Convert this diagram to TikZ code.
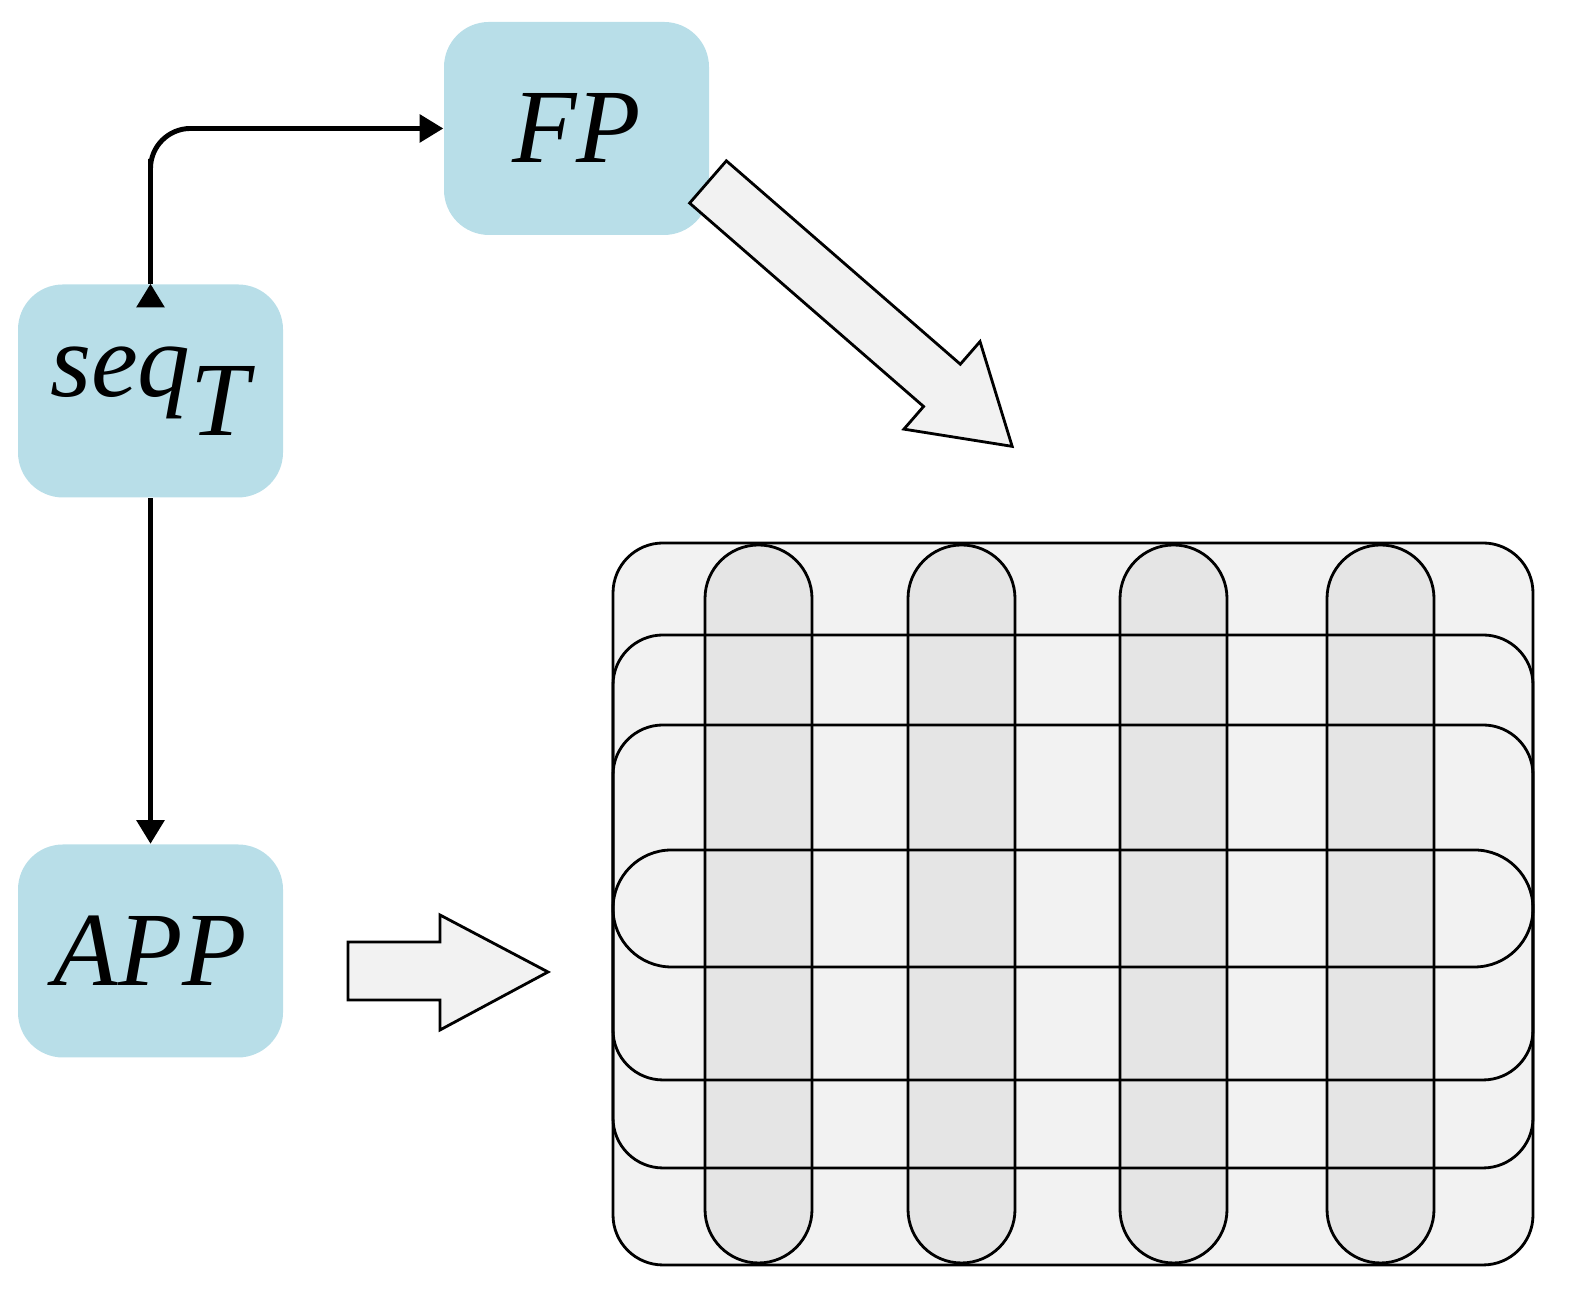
\documentclass[tikz,border=0pt]{standalone}
\usepackage{fontspec}
\setmainfont{Liberation Serif}
\usetikzlibrary{arrows.meta, positioning}

\definecolor{boxblue}{RGB}{184,222,232}

\begin{document}
\begin{tikzpicture}[
        >=Triangle,
        block/.style={
            rectangle,
            minimum width=2.65cm,
            minimum height=2.13cm,
            align=center,
            fill=boxblue,
            rounded corners=0.45cm,
            font=\fontsize{30}{36}\selectfont\itshape
        },
        arrow/.style={
            ->,
            line width=1.4pt,
            color=black
        },
        fatarrow/.style={
            draw=black,
            fill=gray!10,
            line width=0.8pt
        },
        band/.style={
            draw=black,
            line width=0.8pt
        }
    ]

    \useasboundingbox (0,0) rectangle (15.73,13.06);

    \node (seq) [block] at (1.505,9.15) {seq$_{\textit{T}}$};

    \node (fp) [block] at (5.765,11.775) {FP};

    \node (app) [block] at (1.505,3.55) {APP};

    \draw [arrow] (seq.north) -- ++(0,1.25) [rounded corners=0.4cm] |- (fp.west);
    \draw [arrow, rounded corners=0] (seq.north) ++(0,0) -- ++(0,0);

    \draw [arrow] (seq.south) -- (app.north);

    % block arrows
    \draw [fatarrow] (3.48,3.64) -- (4.40,3.64) -- (4.40,3.91) -- (5.48,3.34)
        -- (4.40,2.76) -- (4.40,3.06) -- (3.48,3.06) -- cycle;

    \begin{scope}[shift={(7.08,11.24)}, rotate=-41]
        \draw [fatarrow] (0,0.28) -- (3.1,0.28) -- (3.1,0.58) -- (4.03,0)
            -- (3.1,-0.58) -- (3.1,-0.28) -- (0,-0.28) -- cycle;
    \end{scope}

    % grid
    \fill [gray!10, rounded corners=0.5cm] (6.13,0.41) rectangle (15.33,7.63);
    \foreach \x in {7.05, 9.08, 11.20, 13.27}
        \fill [gray!20, rounded corners=0.535cm] (\x,0.43) rectangle ++(1.07,7.18);
    \draw [band, rounded corners=0.5cm] (6.13,0.41) rectangle (15.33,7.63);
    \draw [band, rounded corners=0.5cm] (6.13,1.38) rectangle (15.33,6.71);
    \draw [band, rounded corners=0.5cm] (6.13,2.26) rectangle (15.33,5.81);
    \draw [band, rounded corners=0.585cm] (6.13,3.39) rectangle (15.33,4.56);
    \foreach \x in {7.05, 9.08, 11.20, 13.27}
        \draw [band, rounded corners=0.535cm] (\x,0.43) rectangle ++(1.07,7.18);

\end{tikzpicture}
\end{document}
